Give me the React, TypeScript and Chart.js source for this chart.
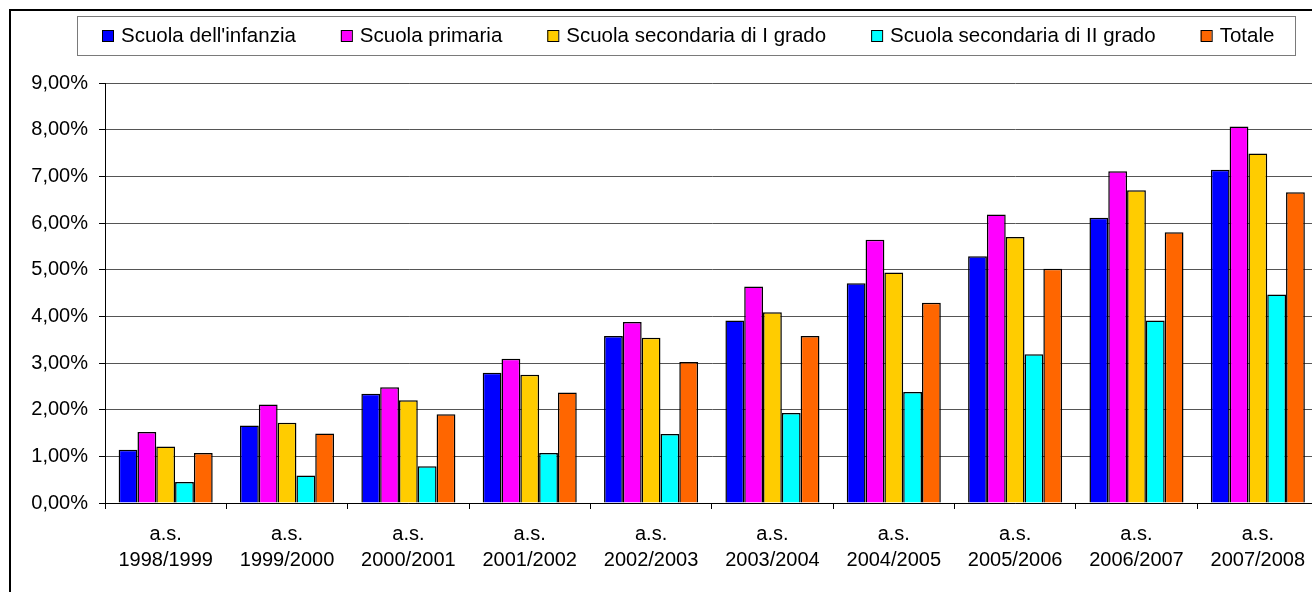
import { useEffect, useRef } from 'react';
import { Chart, registerables } from 'chart.js';

Chart.register(...registerables);

const categories: string[][] = [
  ['a.s.', '1998/1999'],
  ['a.s.', '1999/2000'],
  ['a.s.', '2000/2001'],
  ['a.s.', '2001/2002'],
  ['a.s.', '2002/2003'],
  ['a.s.', '2003/2004'],
  ['a.s.', '2004/2005'],
  ['a.s.', '2005/2006'],
  ['a.s.', '2006/2007'],
  ['a.s.', '2007/2008'],
];

const seriesNames = [
  "Scuola dell'infanzia",
  'Scuola primaria',
  'Scuola secondaria di I grado',
  'Scuola secondaria di II grado',
  'Totale',
];

const infanzia = [1.14, 1.66, 2.34, 2.79, 3.58, 3.91, 4.71, 5.29, 6.11, 7.14];
const primaria = [1.52, 2.11, 2.48, 3.09, 3.88, 4.64, 5.64, 6.18, 7.11, 8.07];
const secondariaI = [1.21, 1.72, 2.2, 2.75, 3.54, 4.09, 4.94, 5.7, 6.7, 7.49];
const secondariaII = [0.45, 0.59, 0.79, 1.07, 1.48, 1.93, 2.38, 3.19, 3.91, 4.47];
const totale = [1.07, 1.49, 1.9, 2.37, 3.02, 3.58, 4.29, 5.02, 5.8, 6.66];

const seriesData = [infanzia, primaria, secondariaI, secondariaII, totale];
const seriesColors = ['#0000FF', '#FF00FF', '#FFCC00', '#00FFFF', '#FF6600'];

const yMin = 0;
const yMax = 9;
const yStep = 1;

const FONT = '"Liberation Sans", Arial, Helvetica, sans-serif';

const legendFramePlugin = {
  id: 'legendFrame',
  afterDraw(chart: any) {
    const ctx = chart.ctx as CanvasRenderingContext2D;
    ctx.save();
    ctx.strokeStyle = '#7a7a7a';
    ctx.lineWidth = 1;
    ctx.strokeRect(77.5, 16.5, 1218, 39);
    ctx.font = `20.5px ${FONT}`;
    ctx.textBaseline = 'alphabetic';
    ctx.textAlign = 'left';
    let x = 102;
    chart.data.datasets.forEach((ds: any) => {
      ctx.fillStyle = ds.backgroundColor;
      ctx.fillRect(x, 30, 11, 11);
      ctx.strokeStyle = '#000';
      ctx.strokeRect(x + 0.5, 30.5, 11, 11);
      ctx.fillStyle = '#000';
      ctx.fillText(ds.label, x + 19, 42);
      x += 19 + ctx.measureText(ds.label).width + 45;
    });
    ctx.restore();
  },
};

export default function App() {
  const ref = useRef<HTMLCanvasElement>(null);

  useEffect(() => {
    Chart.defaults.font.family = FONT;
    Chart.defaults.color = '#000';
    const chart = new Chart(ref.current as HTMLCanvasElement, {
      type: 'bar',
      data: {
        labels: categories,
        datasets: seriesNames.map((name, i) => ({
          label: name,
          data: seriesData[i],
          backgroundColor: seriesColors[i],
          borderColor: '#000',
          borderWidth: 1.5,
          categoryPercentage: 0.775,
          barPercentage: 1,
        })),
      },
      options: {
        responsive: false,
        animation: false,
        devicePixelRatio: 1,
        layout: { padding: { top: 83, left: 0, right: 11.5, bottom: 0 } },
        plugins: {
          legend: { display: false },
          tooltip: { enabled: false },
        },
        scales: {
          x: {
            grid: {
              display: true,
              drawOnChartArea: false,
              drawTicks: true,
              tickLength: 6,
              color: '#000',
              offset: true,
            },
            border: { display: true, color: '#000', width: 1 },
            ticks: {
              font: { size: 20, lineHeight: 1.3 },
              color: '#000',
              padding: 12,
              maxRotation: 0,
              minRotation: 0,
              autoSkip: false,
            },
            afterFit: (s: any) => {
              s.height = 110;
            },
          },
          y: {
            min: yMin,
            max: yMax,
            ticks: {
              stepSize: yStep,
              font: { size: 20 },
              color: '#000',
              padding: 11,
              callback: (v: any) => Number(v).toFixed(2).replace('.', ',') + '%',
            },
            grid: { color: '#555555', tickColor: '#000', tickLength: 6 },
            border: { display: true, color: '#000', width: 1 },
            afterFit: (s: any) => {
              s.width = 105;
            },
          },
        },
      },
      plugins: [legendFramePlugin],
    });
    return () => chart.destroy();
  }, []);

  return (
    <div
      style={{
        position: 'fixed',
        left: 0,
        top: 0,
        width: 1312,
        height: 592,
        overflow: 'hidden',
        background: '#fff',
      }}
    >
      <div
        style={{
          position: 'absolute',
          left: 9,
          top: 9,
          width: 1400,
          height: 700,
          borderLeft: '2px solid #000',
          borderTop: '2px solid #000',
        }}
      />
      <canvas
        ref={ref}
        width={1330}
        height={613}
        style={{ position: 'absolute', left: 0, top: 0, width: 1330, height: 613 }}
      />
    </div>
  );
}
